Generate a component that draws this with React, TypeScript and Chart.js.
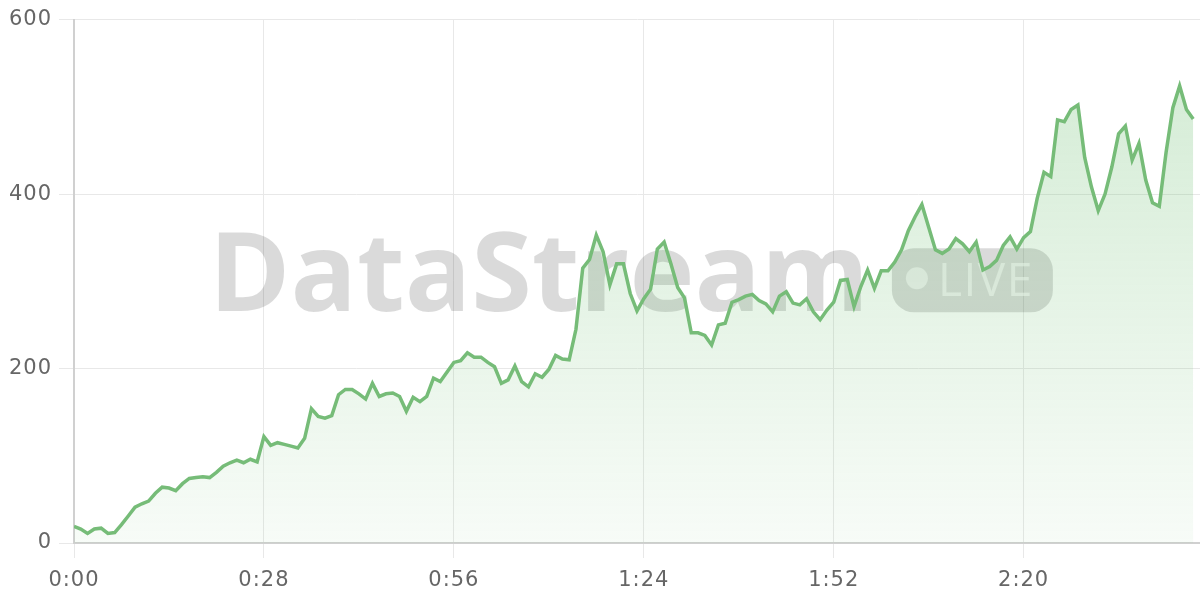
import React, { useEffect, useRef } from 'react';
import { Chart, registerables } from 'chart.js';

Chart.register(...registerables);

// Viewer count, one sample per second (0:00 .. 2:45)
const viewerValues = [
  19, 16, 11, 16, 17, 11, 12, 21, 31, 41,
  45, 48, 57, 64, 63, 60, 68, 74, 75, 76,
  75, 81, 88, 92, 95, 92, 96, 93, 122, 112,
  115, 113, 111, 109, 120, 154, 145, 143, 146, 170,
  176, 176, 171, 165, 183, 168, 171, 172, 168, 151,
  167, 162, 168, 189, 185, 196, 207, 209, 218, 213,
  213, 207, 202, 183, 187, 203, 185, 179, 194, 190,
  199, 215, 211, 210, 245, 315, 325, 353, 334, 296,
  320, 320, 286, 266, 280, 291, 337, 345, 320, 293,
  281, 241, 241, 238, 227, 250, 252, 276, 279, 283,
  285, 278, 274, 265, 283, 288, 275, 273, 280, 265,
  256, 267, 276, 301, 302, 271, 294, 313, 292, 312,
  312, 322, 336, 358, 374, 388, 362, 336, 332, 337,
  349, 343, 334, 345, 313, 317, 324, 341, 351, 337,
  350, 357, 395, 425, 420, 485, 483, 497, 502, 442,
  408, 381, 400, 431, 469, 478, 439, 458, 416, 390,
  386, 448, 499, 524, 497, 486,
];
const seconds = viewerValues.map((_, i) => i);
const xTickStepSeconds = 28;
const xAxisMaxSeconds = 166;
const yTickValues = [0, 200, 400, 600];
const watermarkText = 'DataStream';
const badgeText = 'LIVE';

const formatTime = (sec: number) => {
  const m = Math.floor(sec / 60);
  const s = Math.round(sec % 60);
  return m + ':' + String(s).padStart(2, '0');
};

const letterSpacingPlugin = {
  id: 'letterSpacing',
  beforeDraw(chart: any) {
    chart.ctx.letterSpacing = '1px';
  },
};

const watermarkPlugin = {
  id: 'watermark',
  beforeDatasetsDraw(chart: any) {
    const { ctx, chartArea } = chart;
    const cx = (chartArea.left + chartArea.right) / 2;
    const cy = (chartArea.top + chartArea.bottom) / 2;
    ctx.save();
    ctx.letterSpacing = '0px';
    ctx.font = '700 110px "Open Sans"';
    const tw = ctx.measureText(watermarkText).width;
    const pillW = 161;
    const pillH = 64;
    const gap = 23;
    const total = tw + gap + pillW;
    const x0 = cx - total / 2 - 6;
    ctx.fillStyle = 'rgba(0,0,0,0.145)';
    ctx.textBaseline = 'alphabetic';
    ctx.textAlign = 'left';
    ctx.fillText(watermarkText, x0, cy + 30);
    const px = x0 + tw + gap;
    const py = cy - 33;
    ctx.beginPath();
    ctx.roundRect(px, py, pillW, pillH, 22);
    ctx.fill();
    ctx.fillStyle = 'rgba(255,255,255,0.6)';
    ctx.beginPath();
    ctx.arc(px + 25, cy - 3, 11, 0, Math.PI * 2);
    ctx.fill();
    ctx.font = '400 46px "Open Sans"';
    ctx.letterSpacing = '1.5px';
    ctx.fillText(badgeText, px + 46, cy + 15);
    ctx.restore();
  },
};

export default function App() {
  const canvasRef = useRef<HTMLCanvasElement | null>(null);

  useEffect(() => {
    const canvas = canvasRef.current;
    if (!canvas) return;
    const points = seconds.map((s, i) => ({ x: s, y: viewerValues[i] }));
    const chart = new Chart(canvas, {
      type: 'line',
      data: {
        datasets: [
          {
            data: points,
            borderColor: 'rgb(118,188,120)',
            borderWidth: 3.5,
            pointRadius: 0,
            tension: 0,
            fill: 'origin',
            backgroundColor: (c: any) => {
              const { chart: ch } = c;
              const area = ch.chartArea;
              if (!area) return 'rgba(102,187,106,0.15)';
              const g = ch.ctx.createLinearGradient(0, area.top, 0, area.bottom);
              g.addColorStop(0, 'rgba(102,187,106,0.30)');
              g.addColorStop(1, 'rgba(102,187,106,0.05)');
              return g;
            },
          },
        ],
      },
      options: {
        responsive: false,
        animation: false,
        layout: { padding: { top: 7, bottom: 0, left: 0, right: 0 } },
        plugins: { legend: { display: false }, tooltip: { enabled: false } },
        scales: {
          x: {
            type: 'linear',
            min: 0,
            max: xAxisMaxSeconds,
            grid: { color: '#e8e8e8', tickLength: 15 },
            border: { color: '#d0d0d0', width: 2 },
            afterFit: (s: any) => {
              s.height = 57;
            },
            ticks: {
              stepSize: xTickStepSeconds,
              includeBounds: false,
              color: '#666',
              padding: 10,
              maxRotation: 0,
              font: { family: '"DejaVu Sans"', size: 21 },
              callback: (v: any) => formatTime(Number(v)),
            },
          },
          y: {
            min: yTickValues[0],
            max: yTickValues[yTickValues.length - 1],
            grid: { color: '#e8e8e8', tickLength: 15 },
            border: { color: '#d0d0d0', width: 2 },
            afterFit: (s: any) => {
              s.width = 74;
            },
            ticks: {
              stepSize: yTickValues[1] - yTickValues[0],
              color: '#666',
              padding: 7,
              font: { family: '"DejaVu Sans"', size: 21 },
            },
          },
        },
      },
      plugins: [letterSpacingPlugin, watermarkPlugin],
    } as any);
    return () => chart.destroy();
  }, []);

  return (
    <div style={{ position: 'absolute', left: 0, top: 0, width: 1200, height: 600, background: '#fff' }}>
      <canvas ref={canvasRef} width={1200} height={600} />
    </div>
  );
}
